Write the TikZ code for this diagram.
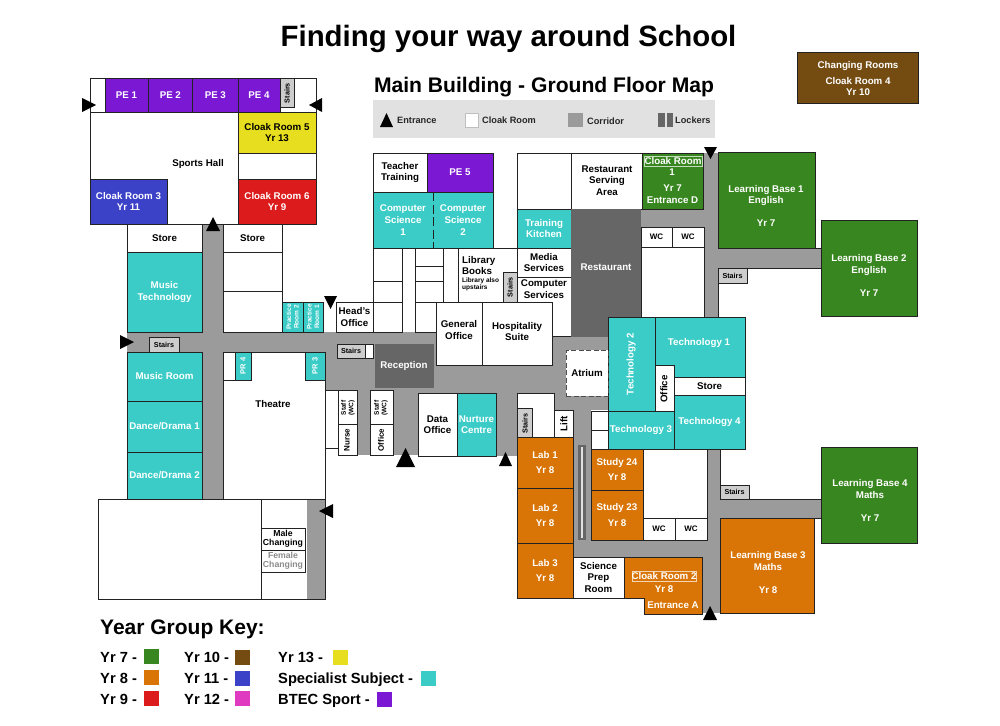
\documentclass[tikz,border=0pt]{standalone}
\usepackage{fontspec}
\setmainfont{Liberation Sans}
\definecolor{cline}{HTML}{222222}
\definecolor{cgreen}{HTML}{38861F}
\definecolor{corange}{HTML}{D97506}
\definecolor{cred}{HTML}{DC1C1C}
\definecolor{cbrown}{HTML}{744C12}
\definecolor{cblue}{HTML}{3C42C8}
\definecolor{cmag}{HTML}{E03AC0}
\definecolor{cyel}{HTML}{E6DE1E}
\definecolor{cteal}{HTML}{3BCCC8}
\definecolor{cpur}{HTML}{7A18D4}
\definecolor{cgrey}{HTML}{9B9B9B}
\definecolor{cdark}{HTML}{666666}
\definecolor{cstair}{HTML}{CDCDCD}
\definecolor{cbar}{HTML}{E1E1E1}
\tikzset{
 x=1pt,y=-1pt,
 lab/.style={inner sep=0pt,align=center,font=\fontsize{9.75}{11.6}\selectfont\bfseries},
 roomb/.style={lab,draw=cline,line width=1pt,fill=white,text=black},
 wr/.style={},
 te/.style={fill=cteal,text=white},
 pu/.style={fill=cpur,text=white},
 gn/.style={fill=cgreen,text=white},
 og/.style={fill=corange,text=white},
 rd/.style={fill=cred,text=white},
 bu/.style={fill=cblue,text=white},
 yl/.style={fill=cyel,text=black},
 bn/.style={fill=cbrown,text=white},
 dk/.style={fill=cdark,text=white,draw=cdark},
 st/.style={fill=cstair,text=black,font=\fontsize{7.2}{8.5}\selectfont\bfseries},
 wcf/.style={font=\fontsize{8}{9}\selectfont\bfseries},
 wl/.style={text=white},
 sm/.style={font=\fontsize{6.5}{7.6}\selectfont\bfseries},
 edge/.style={draw=cline,line width=1pt},
 tri/.style={fill=black},
 corr/.style={fill=cgrey},
 key/.style={inner sep=0pt,anchor=base west,font=\fontsize{14.7}{17}\selectfont\bfseries},
 leg/.style={inner sep=0pt,anchor=base west,font=\fontsize{9.2}{11}\selectfont\bfseries,text=black!85}
}
\newcommand\room[7]{\node[roomb,#2,minimum width={(#5-#3)*1pt},minimum height={(#6-#4)*1pt},at={({(#3+#5)/2},{(#4+#6)/2})}] (#1) {#7};}
\newcommand\lbl[5][]{\node[lab,#1] (#2) at (#3,#4) {#5};}
\begin{document}
\begin{tikzpicture}
\useasboundingbox[fill=white] (0,0) rectangle (1000,725);
% titles
\node[inner sep=0pt,anchor=base,font=\fontsize{29.4}{34}\selectfont\bfseries] (title) at (508.5,47) {Finding your way around School};
\node[inner sep=0pt,anchor=base,font=\fontsize{21.1}{25}\selectfont\bfseries] (subtitle) at (544,92.7) {Main Building - Ground Floor Map};
% legend bar
\fill[cbar] (373,100) rectangle (715,138);
\fill[black] (380,127) -- (393,127) -- (386.5,113) -- cycle;
\node[leg] (lgE) at (397,123.7) {Entrance};
\fill[white,draw=black!25,line width=.6pt] (465,113) rectangle (478.5,127);
\node[leg] (lgC) at (482,123.7) {Cloak Room};
\fill[cgrey] (568,112.5) rectangle (583,127);
\node[leg] (lgK) at (587,124.3) {Corridor};
\fill[cdark] (658,112.5) rectangle (673,127);
\fill[cbar] (665,112.5) rectangle (666.5,127);
\node[leg] (lgL) at (675,123.9) {Lockers};
% corridors
\fill[corr] (202,224) rectangle (223,499);
\fill[corr] (127,332) rectangle (608,352);
\fill[corr] (325,332) rectangle (608,390);
\fill[corr] (357,385) rectangle (370,455);
\fill[corr] (393,385) rectangle (418,455);
\fill[corr] (418,385) rectangle (608,393);
\fill[corr] (496,390) rectangle (517,456);
\fill[corr] (552,336) rectangle (608,410);
\fill[corr] (571,400) rectangle (591,557);
\fill[corr] (573,540) rectangle (707,557);
\fill[corr] (702,540) rectangle (720,613);
\fill[corr] (707,449) rectangle (720,613);
\fill[corr] (720,499) rectangle (821,518);
\fill[corr] (640,209) rectangle (718,227);
\fill[corr] (704,153) rectangle (718,317);
\fill[corr] (718,248) rectangle (821,268);
% sports block
\room{sportsOuter}{wr}{90}{78}{316}{224}{}
\lbl{sportsHall}{198}{164}{Sports Hall}
\path[edge] (90,112) -- (316,112);
\room{pe1}{pu}{105}{78}{148}{112}{PE 1}
\room{pe2}{pu}{148}{78}{192.7}{112}{PE 2}
\room{pe3}{pu}{192.7}{78}{238}{112}{PE 3}
\room{pe4}{pu}{238}{78}{280}{112}{PE 4}
\room{st1}{st}{280}{78}{294}{107}{}
\lbl[rotate=90,st,fill=none]{st1t}{287}{93}{Stairs}
\room{cl5}{yl}{238}{112}{316}{153}{Cloak Room 5\\Yr 13}
\room{spgap}{wr}{238}{153}{316}{179}{}
\room{cl6}{rd}{238}{179}{316}{224}{Cloak Room 6\\Yr 9}
\room{cl3}{bu}{90}{179}{167}{224}{Cloak Room 3\\Yr 11}
% music wing
\room{storeL}{wr}{127}{224}{202}{252}{Store}
\room{musicT}{te}{127}{252}{202}{332}{Music\\Technology}
\room{storeR}{wr}{223}{224}{282}{252}{Store}
\room{cellA}{wr}{223}{252}{282}{291}{}
\room{cellB}{wr}{223}{291}{282}{332}{}
\room{prac2}{te}{282}{302}{303}{332}{}
\room{prac1}{te}{303}{302}{323}{332}{}
\lbl[rotate=90,sm,text=white]{prac2t}{292.5}{317}{Practice\\Room 2}
\lbl[rotate=90,sm,text=white]{prac1t}{313}{317}{Practice\\Room 1}
\room{st2}{st}{149}{337}{179}{352}{Stairs}
\room{musicR}{te}{127}{352}{202}{401}{Music Room}
\room{dd1}{te}{127}{401}{202}{452}{Dance/Drama 1}
\room{dd2}{te}{127}{452}{202}{499}{Dance/Drama 2}
\room{theatre}{wr}{223}{352}{325}{499}{}
\lbl{theatreT}{273}{404}{Theatre}
\path[edge] (223,380) -- (251,380);
\path[edge] (305,380) -- (325,380);
\room{pr4}{te}{235}{352}{251}{380}{}
\room{pr3}{te}{305}{352}{325}{380}{}
\lbl[rotate=90,sm,text=white,font=\fontsize{7.5}{8}\selectfont\bfseries]{pr4t}{243}{366}{PR 4}
\lbl[rotate=90,sm,text=white,font=\fontsize{7.5}{8}\selectfont\bfseries]{pr3t}{315}{366}{PR 3}
% bottom block
\room{changeBlock}{wr}{261}{499}{325}{599}{}
\fill[corr] (307,499.5) rectangle (324.5,598.5);
\room{gym}{wr}{98}{499}{261}{599}{}
\room{male}{wr}{261}{528}{305}{550}{}
\room{female}{wr}{261}{550}{305}{572}{}
\lbl[font=\fontsize{8.7}{8.6}\selectfont\bfseries]{maleT}{283}{539}{Male\\Changing}
\lbl[font=\fontsize{8.7}{8.6}\selectfont\bfseries,text=black!45]{femaleT}{283}{561}{Female\\Changing}
% staff
\path[edge] (325,390) -- (338,390);
\path[edge] (325,448) -- (338,448);
\room{staffL}{wr}{338}{390}{357}{424}{}
\room{nurse}{wr}{338}{424}{357}{455}{}
\room{staffR}{wr}{370}{390}{393}{424}{}
\room{office1}{wr}{370}{424}{393}{455}{}
\lbl[rotate=90,sm]{staffLt}{348}{408}{Staff\\(WC)}
\lbl[rotate=90,sm]{staffRt}{381}{408}{Staff\\(WC)}
\lbl[rotate=90,font=\fontsize{8}{9}\selectfont\bfseries]{nurseT}{347}{440}{Nurse}
\lbl[rotate=90,font=\fontsize{8}{9}\selectfont\bfseries]{office1T}{381}{440}{Office}
\room{st3}{st}{337}{344}{365}{358}{Stairs}
\room{st3b}{wr}{365}{344}{373}{358}{}
\room{reception}{dk}{375}{344}{433}{387}{Reception}
% head/library
\room{heads}{wr}{336}{302}{373}{332}{Head's\\Office}
\room{tt}{wr}{373}{153}{427}{192}{Teacher\\Training}
\room{pe5}{pu}{427}{153}{493}{192}{PE 5}
\room{cs1}{te}{373}{192}{433}{248}{Computer\\Science\\1}
\room{cs2}{te}{433}{192}{493}{248}{Computer\\Science\\2}
\path[draw=cteal,line width=1.2pt] (433,192.6) -- (433,247.4);
\path[draw=cline,line width=1pt,dash pattern=on 9pt off 3.5pt] (433,192) -- (433,248);
\room{c1}{wr}{373}{248}{402}{281}{}
\room{c2}{wr}{373}{281}{402}{302}{}
\room{c3}{wr}{373}{302}{402}{332}{}
\room{c4}{wr}{415}{248}{443}{266}{}
\room{c5}{wr}{415}{266}{443}{281}{}
\room{c6}{wr}{415}{281}{443}{302}{}
\room{c7}{wr}{415}{302}{436}{332}{}
\path[edge] (402,248) -- (415,248);
\path[edge] (443,248) -- (458,248);
\room{library}{wr}{458}{248}{517}{302}{}
\lbl[anchor=west,align=left]{libT}{462}{265.5}{Library\\[-.2pt]Books}
\lbl[anchor=west,align=left,sm]{libS}{462}{284.5}{Library also\\upstairs}
\room{st4}{st}{503}{272}{517}{302}{}
\lbl[rotate=90,st,fill=none]{st4t}{510}{287}{Stairs}
\room{cover}{wr}{517}{153}{571}{209}{}
\room{kitchen}{te}{517}{209}{571}{248}{Training\\Kitchen}
\room{media}{wr}{517}{248}{571}{277}{Media\\Services}
\room{comps}{wr}{517}{277}{571}{336}{}
\lbl{compsT}{544}{289}{Computer\\Services}
\room{genoff}{wr}{436}{302}{482}{365}{}
\lbl{genT}{459}{330}{General\\Office}
\room{hosp}{wr}{482}{302}{552}{365}{}
\lbl{hospT}{517}{331.5}{Hospitality\\Suite}
\room{serving}{wr}{571}{153}{642}{209}{}
\lbl{servT}{607}{180.5}{Restaurant\\Serving\\Area}
\room{cl1}{gn}{642}{153}{703}{209}{}
\node[draw=white!70!cgreen,line width=.6pt,fill=none,minimum width=58pt,minimum height=9.5pt,inner sep=0pt] (cl1box) at (673,161.5) {};
\lbl[text=white]{cl1a}{673}{161.5}{Cloak Room}
\lbl[text=white]{cl1b}{672}{172}{1}
\lbl[text=white]{cl1c}{672.5}{194}{Yr 7\\Entrance D}
\room{restaurant}{dk}{571}{209}{640}{336}{}
\lbl[text=white]{restT}{606}{267}{Restaurant}
\room{wc1}{wcf}{641}{227}{672}{247}{WC}
\room{wc2}{wcf}{672}{227}{704}{247}{WC}
\room{whiteR}{wr}{641}{247}{704}{317}{}
% technology
\room{tech1}{te}{655}{317}{745}{377}{}
\lbl[text=white]{tech1T}{699}{343}{Technology 1}
\room{tech2}{te}{608}{317}{655}{411}{}
\lbl[rotate=90,text=white]{tech2T}{631}{364}{Technology 2}
\room{office2}{wr}{655}{365}{674}{411}{}
\lbl[rotate=90]{office2T}{664}{389}{Office}
\room{store3}{wr}{674}{377}{745}{395}{Store}
\room{tech4}{te}{674}{395}{745}{449}{Technology 4}
\room{tech3}{te}{608}{411}{674}{449}{Technology 3}
\room{sq1}{wr}{591}{411}{608}{430}{}
\room{sq2}{wr}{591}{430}{608}{449}{}
\node[draw=black!70,line width=1pt,dash pattern=on 5pt off 2.5pt,fill=white,minimum width=42pt,minimum height=46pt,inner sep=0pt,lab] (atrium) at (587,373) {Atrium};
% data
\room{data}{wr}{418}{393}{457}{456}{Data\\Office}
\room{nurture}{te}{457}{393}{496}{456}{Nurture\\Centre}
% labs
\room{labTop}{wr}{517}{393}{554}{437}{}
\room{lift}{wr}{554}{410}{573}{437}{}
\lbl[rotate=90]{liftT}{564}{423.5}{Lift}
\room{st5}{st}{517}{408}{532}{437}{}
\lbl[rotate=90,st,fill=none]{st5t}{525}{423.5}{Stairs}
\room{lab1}{og}{517}{437}{573}{488}{Lab 1\\[3.5pt]Yr 8}
\room{lab2}{og}{517}{488}{573}{543}{Lab 2\\[3.5pt]Yr 8}
\room{lab3}{og}{517}{543}{573}{598}{Lab 3\\[3.5pt]Yr 8}
\room{prep}{wr}{573}{557}{624}{598}{Science\\Prep\\Room}
\path[draw=cline,line width=1pt,fill=corange] (624,557) -- (702,557) -- (702,614) -- (644,614) -- (644,598) -- (624,598) -- cycle;
\node[draw=white!70!corange,line width=.6pt,minimum width=64pt,minimum height=10pt,inner sep=0pt] (cl2box) at (664,576) {};
\lbl[text=white]{cl2a}{664}{576}{Cloak Room 2}
\lbl[text=white]{cl2b}{664}{589}{Yr 8}
\lbl[text=white]{cl2c}{673}{605}{Entrance A}
% lockers
\fill[cdark] (578,445) rectangle (586,540);
\fill[cbar] (580.5,447) rectangle (583,538);
% study
\room{st24}{og}{591}{449}{643}{490}{Study 24\\[3.5pt]Yr 8}
\room{st23}{og}{591}{490}{643}{540}{Study 23\\[3.5pt]Yr 8}
\room{whiteS}{wr}{643}{449}{707}{518}{}
\room{wc3}{wcf}{643}{518}{675}{540}{WC}
\room{wc4}{wcf}{675}{518}{707}{540}{WC}
% learning bases
\room{lb1}{gn}{718}{152}{815}{248}{}
\lbl[text=white]{lb1T}{766}{206}{Learning Base 1\\English\\[11.6pt]Yr 7}
\room{lb2}{gn}{821}{220}{917}{316}{}
\lbl[text=white]{lb2T}{869}{275.5}{Learning Base 2\\English\\[11.6pt]Yr 7}
\path[edge] (718,248) -- (821,248);
\path[edge] (718,268) -- (821,268);
\path[edge] (718,268) -- (718,317);
\room{st6}{st}{718}{268}{747}{283}{Stairs}
\room{lb3}{og}{720}{518}{814}{613}{}
\lbl[text=white]{lb3T}{768}{572.5}{Learning Base 3\\Maths\\[11.6pt]Yr 8}
\room{lb4}{gn}{821}{447}{917}{543}{}
\lbl[text=white]{lb4T}{870}{500.5}{Learning Base 4\\Maths\\[11.6pt]Yr 7}
\path[edge] (720,449) -- (720,499) -- (821,499);
\path[edge] (720,518) -- (821,518);
\room{st7}{st}{720}{485}{749}{499}{Stairs}
\room{changing}{bn}{797}{53}{918}{103}{}
\lbl[text=white]{chA}{858}{66}{Changing Rooms}
\lbl[text=white]{chB}{858}{86.5}{Cloak Room 4\\Yr 10}
% entrances
\fill[tri] (82,98) -- (96,105) -- (82,112) -- cycle;
\fill[tri] (322,98) -- (309,105) -- (322,112) -- cycle;
\fill[tri] (206,231) -- (220,231) -- (213,217) -- cycle;
\fill[tri] (324,296) -- (337,296) -- (330.5,309) -- cycle;
\fill[tri] (120,335) -- (134,342) -- (120,349) -- cycle;
\fill[tri] (333,504) -- (319,511) -- (333,518) -- cycle;
\fill[tri] (396,467) -- (415,467) -- (405.5,448) -- cycle;
\fill[tri] (499,466) -- (512,466) -- (505.5,452) -- cycle;
\fill[tri] (703,620) -- (717,620) -- (710,606) -- cycle;
\fill[tri] (704,147) -- (717,147) -- (710.5,159) -- cycle;
% key
\node[inner sep=0pt,anchor=base west,font=\fontsize{21}{25}\selectfont\bfseries] (keyT) at (100,634) {Year Group Key:};
\node[key] (k7) at (100,662) {Yr 7 -};
\node[key] (k8) at (100,683) {Yr 8 -};
\node[key] (k9) at (100,704) {Yr 9 -};
\node[key] (k10) at (184,662) {Yr 10 -};
\node[key] (k11) at (184,683) {Yr 11 -};
\node[key] (k12) at (184,704) {Yr 12 -};
\node[key] (k13) at (278,662) {Yr 13 -};
\node[key] (ks) at (278,683) {Specialist Subject -};
\node[key] (kb) at (278,704) {BTEC Sport -};
\fill[cgreen] (144,649) rectangle (159,664);
\fill[corange] (144,670) rectangle (159,685);
\fill[cred] (144,691) rectangle (159,706);
\fill[cbrown] (235,650) rectangle (250,665);
\fill[cblue] (235,671) rectangle (250,686);
\fill[cmag] (235,691) rectangle (250,706);
\fill[cyel] (333,650) rectangle (348,665);
\fill[cteal] (421,671) rectangle (436,686);
\fill[cpur] (377,692) rectangle (392,707);
\end{tikzpicture}
\end{document}
